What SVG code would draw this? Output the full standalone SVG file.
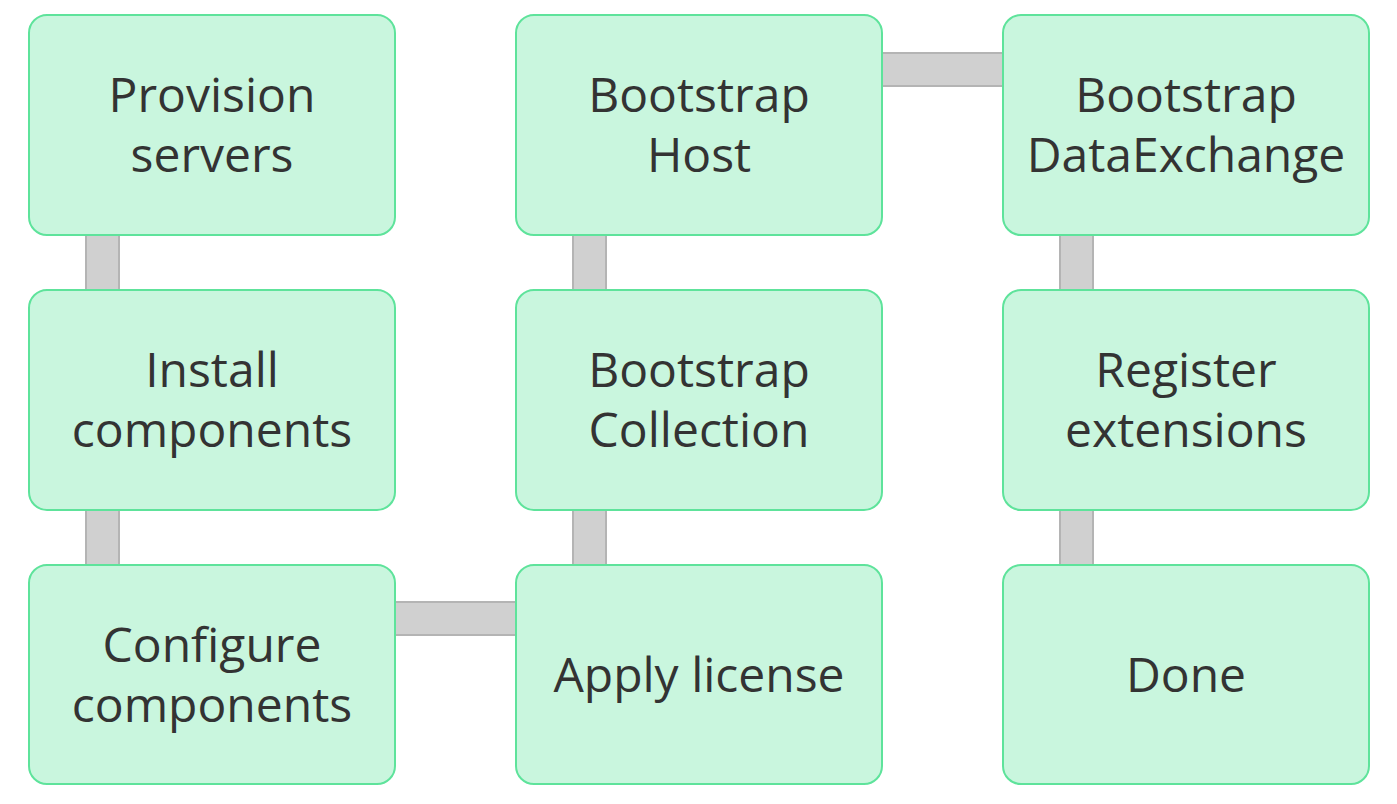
<svg xmlns="http://www.w3.org/2000/svg" width="1397" height="804" viewBox="0 0 1397 804">
<style>
.node rect{fill:#c9f6de;stroke:#5ee39b;stroke-width:2}
.node text{font-family:"Open Sans","Noto Sans",sans-serif;font-size:48px;fill:#333333;text-anchor:middle}
.conn rect{fill:#d0d0d0;stroke:#b4b4b4;stroke-width:2}
</style>
<rect width="1397" height="804" fill="#ffffff"/>
<g id="connectors" class="conn">
<rect x="86" y="230" width="33" height="65"/>
<rect x="86" y="505" width="33" height="65"/>
<rect x="390" y="602" width="131" height="33"/>
<rect x="573" y="505" width="33" height="65"/>
<rect x="573" y="230" width="33" height="65"/>
<rect x="877" y="53" width="131" height="33"/>
<rect x="1060" y="230" width="33" height="65"/>
<rect x="1060" y="505" width="33" height="65"/>
</g>
<g id="n1" class="node"><rect x="29" y="15" width="366" height="220" rx="18"/><text x="212" y="112">Provision</text><text x="212" y="172">servers</text></g>
<g id="n2" class="node"><rect x="29" y="290" width="366" height="220" rx="18"/><text x="212" y="387">Install</text><text x="212" y="447">components</text></g>
<g id="n3" class="node"><rect x="29" y="565" width="366" height="219" rx="18"/><text x="212" y="662">Configure</text><text x="212" y="722">components</text></g>
<g id="n4" class="node"><rect x="516" y="565" width="366" height="219" rx="18"/><text x="699" y="692">Apply license</text></g>
<g id="n5" class="node"><rect x="516" y="290" width="366" height="220" rx="18"/><text x="699" y="387">Bootstrap</text><text x="699" y="447">Collection</text></g>
<g id="n6" class="node"><rect x="516" y="15" width="366" height="220" rx="18"/><text x="699" y="112">Bootstrap</text><text x="699" y="172">Host</text></g>
<g id="n7" class="node"><rect x="1003" y="15" width="366" height="220" rx="18"/><text x="1186" y="112">Bootstrap</text><text x="1186" y="172">DataExchange</text></g>
<g id="n8" class="node"><rect x="1003" y="290" width="366" height="220" rx="18"/><text x="1186" y="387">Register</text><text x="1186" y="447">extensions</text></g>
<g id="n9" class="node"><rect x="1003" y="565" width="366" height="219" rx="18"/><text x="1186" y="692">Done</text></g>
</svg>
